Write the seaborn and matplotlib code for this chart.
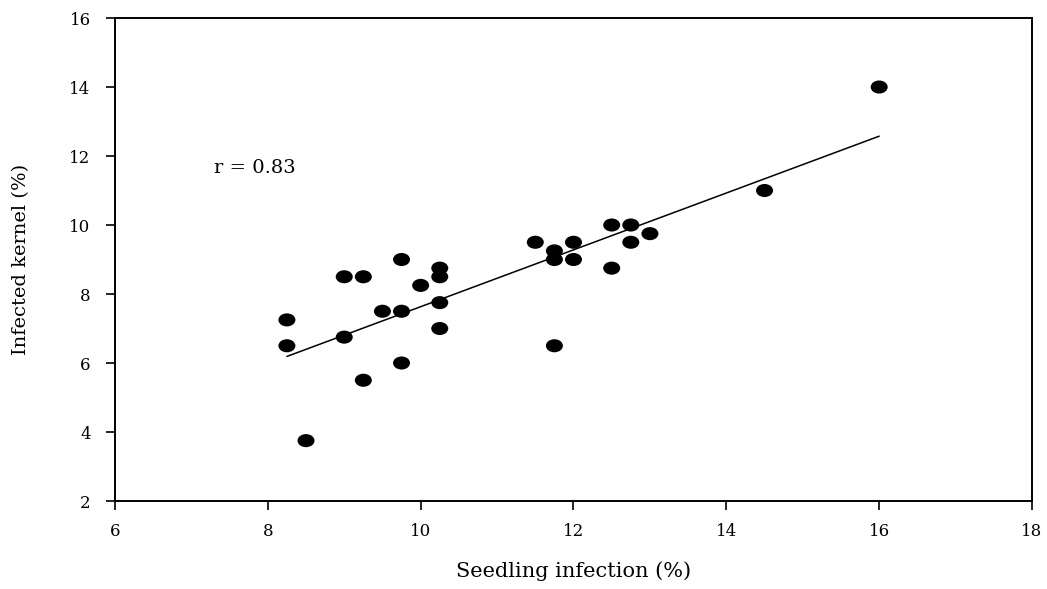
import numpy as np
import pandas as pd
import matplotlib
matplotlib.use("Agg")
import matplotlib.pyplot as plt
from matplotlib.path import Path
from matplotlib.transforms import Affine2D
import seaborn as sns

# Data
seedling_infection = [16.0, 14.5, 13.0, 12.75, 12.75, 12.5, 12.5, 12.0, 12.0,
                      11.75, 11.75, 11.75, 11.5, 10.25, 10.25, 10.25, 10.25,
                      10.0, 9.75, 9.75, 9.75, 9.5, 9.25, 9.25, 9.0, 9.0,
                      8.5, 8.25, 8.25]
infected_kernel = [14.0, 11.0, 9.75, 10.0, 9.5, 10.0, 8.75, 9.5, 9.0,
                   9.25, 9.0, 6.5, 9.5, 8.75, 8.5, 7.75, 7.0,
                   8.25, 9.0, 7.5, 6.0, 7.5, 8.5, 5.5, 8.5, 6.75,
                   3.75, 7.25, 6.5]
x_ticks = [6, 8, 10, 12, 14, 16, 18]
y_ticks = [2, 4, 6, 8, 10, 12, 14, 16]
annotation = "r = 0.83"

df = pd.DataFrame({"x": seedling_infection, "y": infected_kernel})

sns.set_style("ticks")
plt.rcParams["font.family"] = ["DejaVu Serif"]
plt.rcParams["text.color"] = "black"
plt.rcParams["axes.labelcolor"] = "black"

fig = plt.figure(figsize=(10.47, 5.89), dpi=100)
ax = fig.add_axes([0.1098, 0.1494, 0.8759, 0.82])

ellipse = Path.unit_circle().transformed(Affine2D().scale(1.3, 1.0))

sns.regplot(data=df, x="x", y="y", ax=ax, ci=None, truncate=True,
            marker=ellipse,
            scatter_kws=dict(s=150, color="black", edgecolors="none", alpha=1),
            line_kws=dict(color="black", lw=1.1))

ax.set_xlim(6, 18)
ax.set_ylim(2, 16)
ax.set_xticks(x_ticks)
ax.set_yticks(y_ticks)
ax.set_xticklabels([str(t) for t in x_ticks])
ax.set_yticklabels([str(t) for t in y_ticks])

for s in ax.spines.values():
    s.set_visible(True)
    s.set_linewidth(1.4)
    s.set_color("black")

ax.tick_params(axis="both", direction="out", length=6.5, width=1.2,
               labelsize=12, colors="black")
ax.tick_params(axis="y", pad=11)
ax.tick_params(axis="x", pad=9)

ax.set_xlabel("Seedling infection (%)", fontsize=15, labelpad=16,
              color="black")
ax.set_ylabel("Infected kernel (%)", fontsize=14, labelpad=28,
              color="black")

ax.text(7.3, 11.65, annotation, fontsize=14, va="center", ha="left",
        color="black")

fig.savefig("out.png", dpi=100, facecolor="white")
